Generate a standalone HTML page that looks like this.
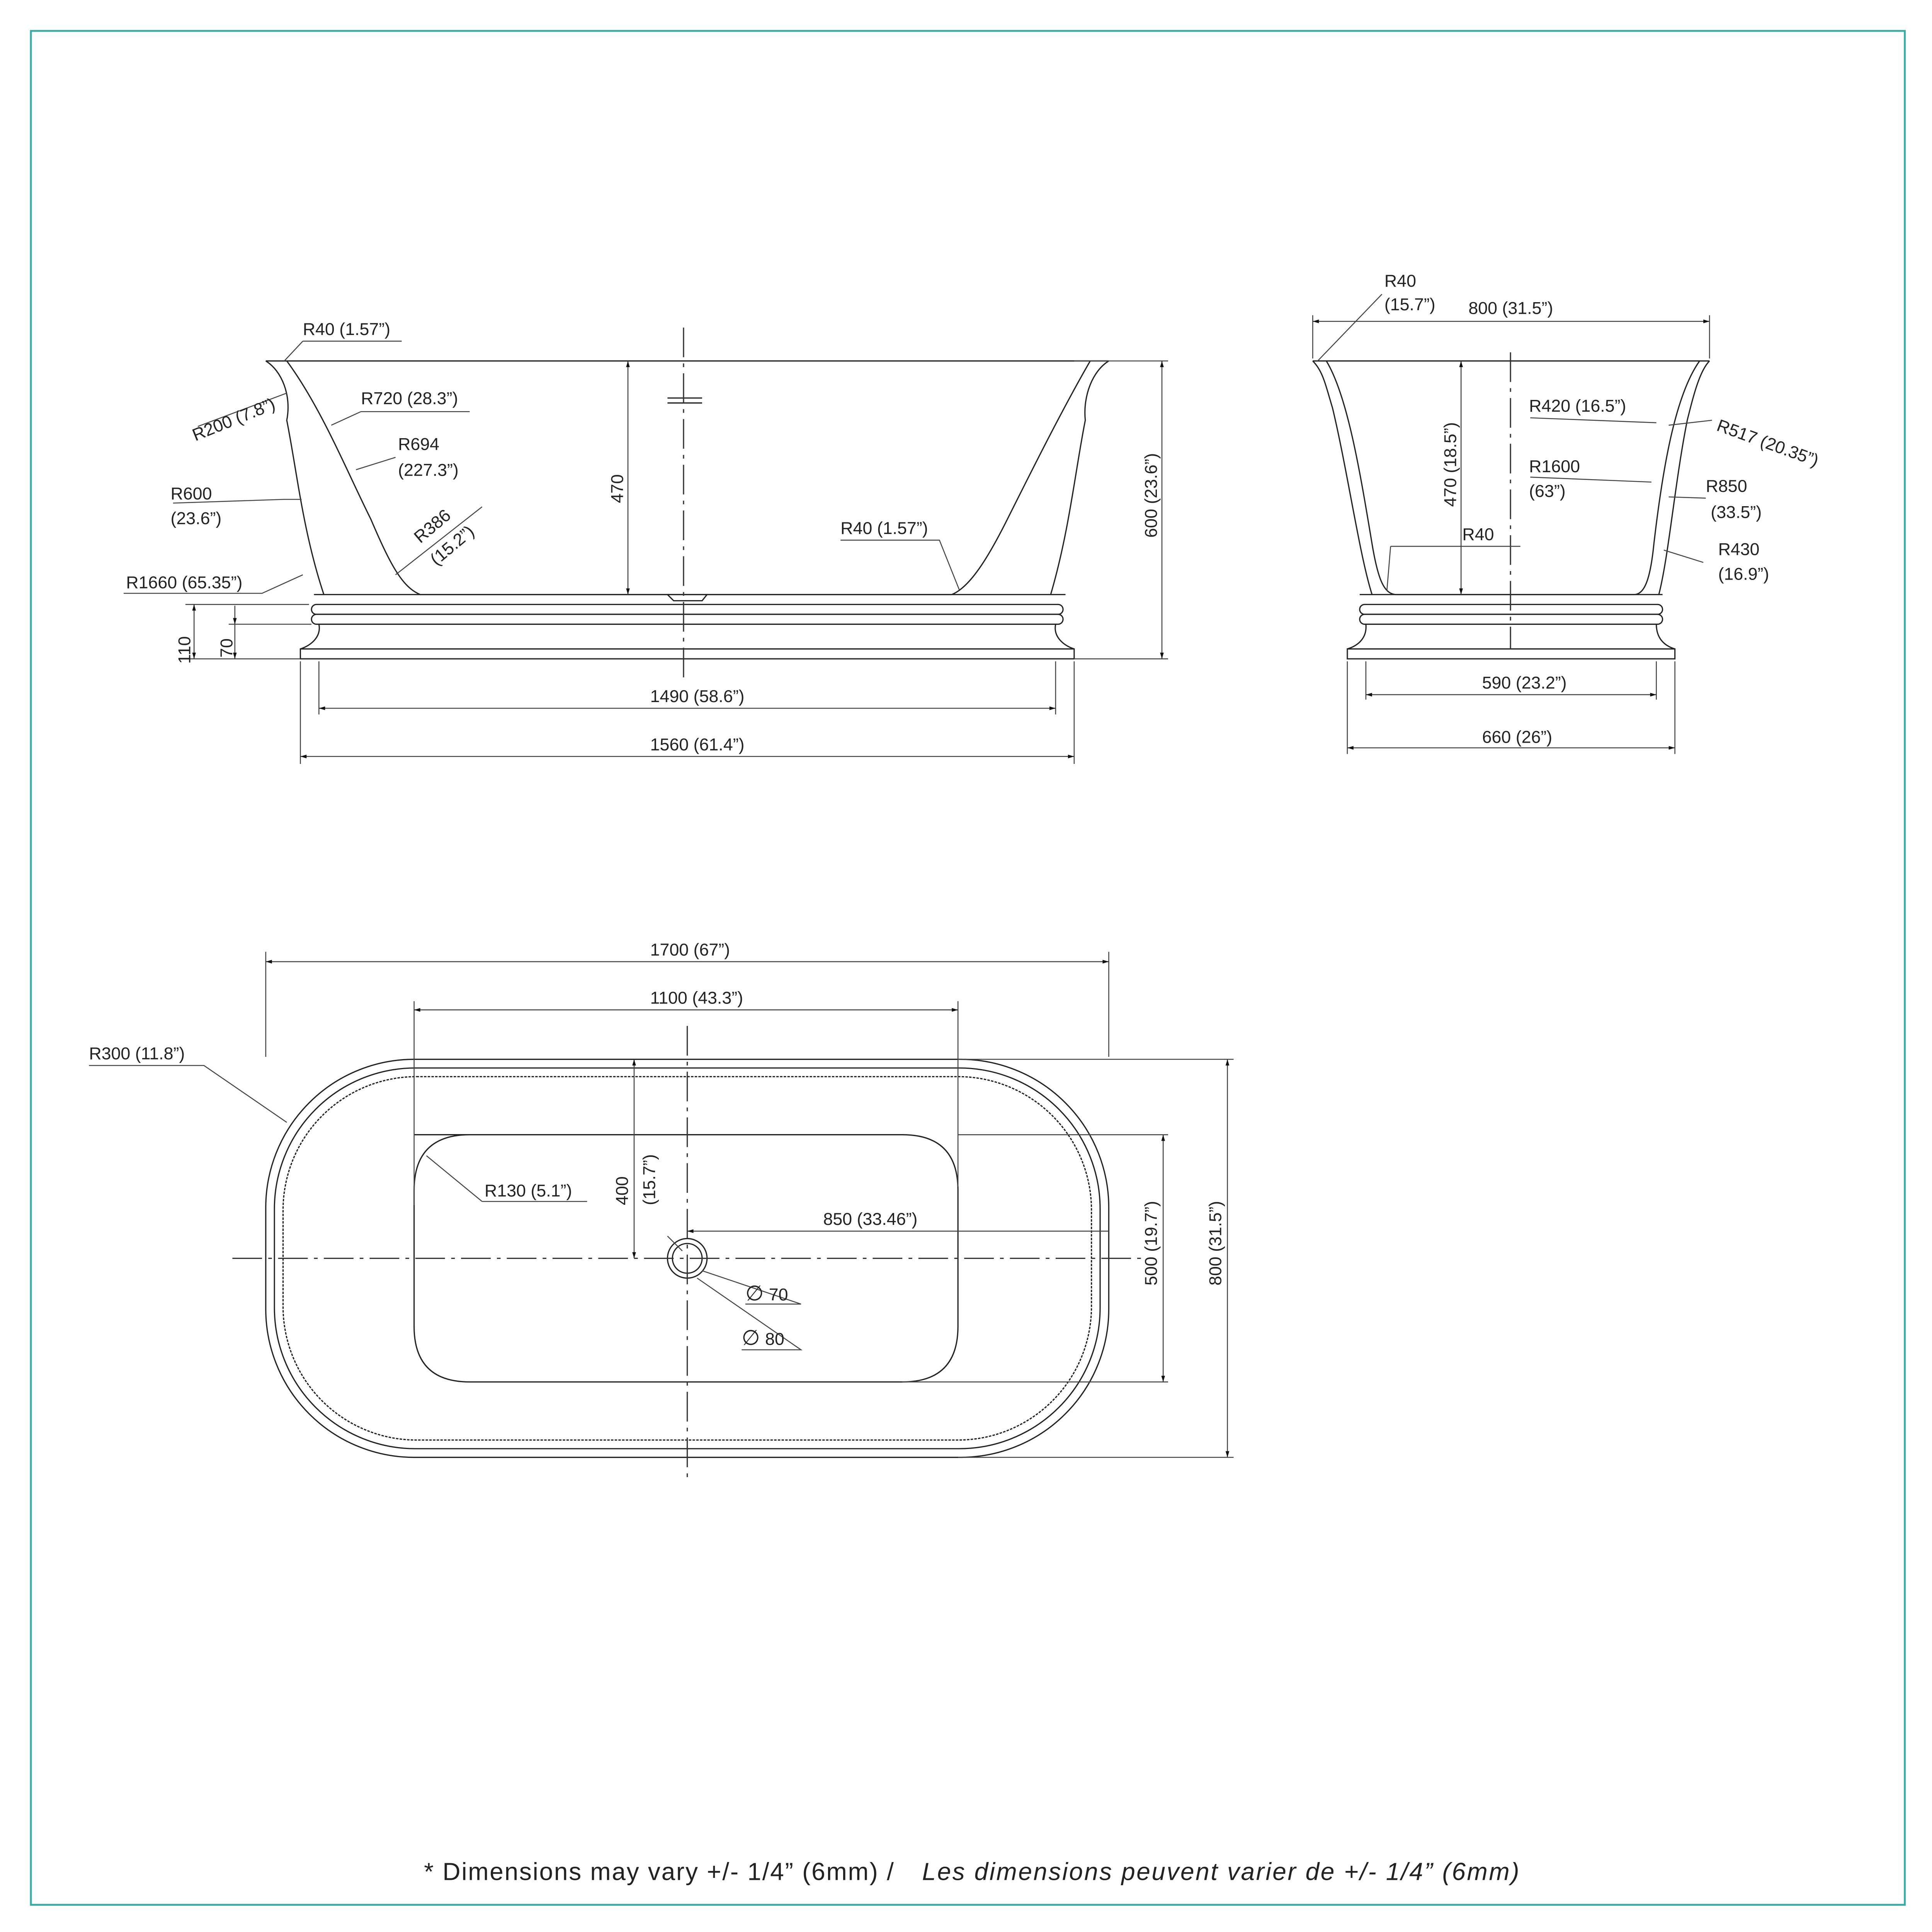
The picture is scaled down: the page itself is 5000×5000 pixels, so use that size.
<!DOCTYPE html>
<html><head><meta charset="utf-8"><style>
html,body{margin:0;padding:0;background:#fff;}
svg{display:block;}
text{font-family:"Liberation Sans",sans-serif;font-size:14px;fill:#222;}
</style></head><body>
<svg width="5000" height="5000" viewBox="0 0 1563 1563" xmlns="http://www.w3.org/2000/svg">
<defs>
<marker id="a" viewBox="0 0 10 10" refX="10" refY="5" markerWidth="9" markerHeight="5" orient="auto-start-reverse" markerUnits="userSpaceOnUse"><path d="M0,2 L10,5 L0,8z" fill="#111"/></marker>
</defs>
<rect x="25" y="25" width="1516" height="1516" fill="none" stroke="#3aa9a9" stroke-width="1.5"/>
<g fill="none" stroke="#222" stroke-width="1">
<path d="M215,292 L897,292"/>
<path d="M215,292 C228,300 236,320 232,340 C240,380 245,430 262,481"/>
<path d="M232,292 C260,330 280,380 300,420 C315,455 325,475 340,481 L770,481 C785,475 800,450 815,420 C835,380 860,330 882,292"/>
<path d="M897,292 C884,300 876,320 878,340 C870,380 865,430 850,481"/>
<path d="M254,481 L862,481"/>
<rect x="252" y="489" width="608" height="8" rx="4"/>
<rect x="252" y="497" width="608" height="8" rx="4"/>
<path d="M258,505 C260,515 252,522 243,525 L869,525 C860,522 852,515 854,505"/>
<rect x="243" y="525" width="626" height="8"/>
<path d="M540,322 L568,322 M540,326 L568,326"/>
<path d="M540,481 L545,486 L568,486 L572,481"/>
<path d="M1062,292 L1383,292"/>
<path d="M1062,292 C1070,300 1072,310 1078,330 C1090,380 1100,450 1110,481"/>
<path d="M1073,292 C1090,320 1100,380 1110,440 C1115,470 1120,481 1130,481 L1322,481 C1330,481 1335,470 1338,440 C1345,380 1355,320 1375,292"/>
<path d="M1383,292 C1375,300 1370,320 1365,340 C1355,390 1350,450 1342,481"/>
<rect x="1100" y="489" width="245" height="8" rx="4"/>
<rect x="1100" y="497" width="245" height="8" rx="4"/>
<path d="M1105,505 C1106,515 1100,522 1090,525 L1355,525 C1345,522 1340,515 1340,505"/>
<rect x="1090" y="525" width="265" height="8"/>
<path d="M1100,481 L1345,481"/>
<rect x="215" y="857" width="682" height="322" rx="120"/>
<rect x="222" y="864" width="668" height="308" rx="114"/>
<rect x="229" y="871" width="654" height="294" rx="108" stroke-dasharray="2,1"/>
<path d="M335,918 L730,918 Q775,918 775,963 L775,1073 Q775,1118 730,1118 L380,1118 Q335,1118 335,1073 L335,963 Q335,918 380,918 Z"/>
<circle cx="556" cy="1018" r="16"/><circle cx="556" cy="1018" r="12"/>
</g>
<g stroke="#333" stroke-width="1" stroke-dasharray="24,5,3,5" fill="none">
<path d="M553,265 L553,548"/>
<path d="M1222,285 L1222,525"/>
<path d="M188,1018 L925,1018"/>
<path d="M556,830 L556,1200"/>
</g>
<g stroke="#444" stroke-width="0.8" fill="none">
<path d="M869,292 L945,292 M869,533 L945,533"/>
<path d="M940,292 L940,533" marker-start="url(#a)" marker-end="url(#a)"/>
<path d="M508,292 L508,481" marker-start="url(#a)" marker-end="url(#a)"/>
<path d="M258,535 L258,578 M854,535 L854,578 M243,535 L243,618 M869,535 L869,618"/>
<path d="M258,573 L854,573" marker-start="url(#a)" marker-end="url(#a)"/>
<path d="M243,612 L869,612" marker-start="url(#a)" marker-end="url(#a)"/>
<path d="M150,489 L250,489 M150,533 L243,533 M185,505 L252,505"/>
<path d="M157,489 L157,533" marker-start="url(#a)" marker-end="url(#a)"/>
<path d="M190,505 L190,533" marker-end="url(#a)"/><path d="M190,490 L190,505" marker-end="url(#a)"/>
<path d="M1062,255 L1062,290 M1383,255 L1383,290"/>
<path d="M1062,260 L1383,260" marker-start="url(#a)" marker-end="url(#a)"/>
<path d="M1182,292 L1182,481" marker-start="url(#a)" marker-end="url(#a)"/>
<path d="M1105,535 L1105,566 M1340,535 L1340,566 M1090,535 L1090,610 M1355,535 L1355,610"/>
<path d="M1105,562 L1340,562" marker-start="url(#a)" marker-end="url(#a)"/>
<path d="M1090,605 L1355,605" marker-start="url(#a)" marker-end="url(#a)"/>
<path d="M215,770 L215,855 M897,770 L897,855 M335,810 L335,975 M775,810 L775,960"/>
<path d="M215,778 L897,778" marker-start="url(#a)" marker-end="url(#a)"/>
<path d="M335,817 L775,817" marker-start="url(#a)" marker-end="url(#a)"/>
<path d="M775,857 L998,857 M775,1179 L998,1179 M775,918 L945,918 M730,1118 L945,1118"/>
<path d="M993,857 L993,1179" marker-start="url(#a)" marker-end="url(#a)"/>
<path d="M941,918 L941,1118" marker-start="url(#a)" marker-end="url(#a)"/>
<path d="M556,996 L897,996" marker-start="url(#a)"/>
<path d="M513,857 L513,1018" marker-start="url(#a)" marker-end="url(#a)"/>
<path d="M245,276 L325,276 M245,276 L230,292" /><path d="M292,333 L380,333 M292,333 L268,344"/>
<path d="M320,370 L288,380"/><path d="M140,407 L230,404 L244,404"/>
<path d="M100,480 L212,480 L245,465"/><path d="M390,410 L320,465"/>
<path d="M680,437 L760,437 L776,477"/><path d="M160,345 L232,318"/>
<path d="M1118,238 L1066,292"/><path d="M1238,338 L1340,342"/><path d="M1238,386 L1336,390"/>
<path d="M1125,442 L1230,442 M1125,442 L1122,478"/><path d="M1385,340 L1350,344"/>
<path d="M1380,403 L1350,402"/><path d="M1378,455 L1346,445"/>
<path d="M72,862 L165,862 L232,908"/><path d="M390,972 L475,972 M390,972 L345,935"/>
<path d="M603,1055 L648,1055 L568,1028"/><path d="M600,1092 L648,1092 L564,1034"/>
<path d="M540,1000 L552,1012"/>
</g>
<text x="245" y="271">R40 (1.57”)</text>
<text x="292" y="327">R720 (28.3”)</text>
<text x="322" y="364">R694</text><text x="322" y="385">(227.3”)</text>
<text x="138" y="404">R600</text><text x="138" y="424">(23.6”)</text>
<text x="102" y="476">R1660 (65.35”)</text>
<text transform="translate(158,357) rotate(-22)">R200 (7.8”)</text>
<text transform="translate(340,440) rotate(-40)">R386</text>
<text transform="translate(353,458) rotate(-40)">(15.2”)</text>
<text x="680" y="432">R40 (1.57”)</text>
<text transform="translate(504,407) rotate(-90)">470</text>
<text transform="translate(936,435) rotate(-90)">600 (23.6”)</text>
<text transform="translate(154,537) rotate(-90)">110</text>
<text transform="translate(188,532) rotate(-90)">70</text>
<text x="526" y="568">1490 (58.6”)</text>
<text x="526" y="607">1560 (61.4”)</text>
<text x="1120" y="232">R40</text><text x="1120" y="251">(15.7”)</text>
<text x="1188" y="254">800 (31.5”)</text>
<text transform="translate(1178,410) rotate(-90)">470 (18.5”)</text>
<text x="1237" y="333">R420 (16.5”)</text>
<text x="1237" y="382">R1600</text><text x="1237" y="402">(63”)</text>
<text x="1183" y="437">R40</text>
<text transform="translate(1388,348) rotate(20)">R517 (20.35”)</text>
<text x="1380" y="398">R850</text><text x="1384" y="419">(33.5”)</text>
<text x="1390" y="449">R430</text><text x="1390" y="469">(16.9”)</text>
<text x="1199" y="557">590 (23.2”)</text>
<text x="1199" y="601">660 (26”)</text>
<text x="526" y="773">1700 (67”)</text>
<text x="526" y="812">1100 (43.3”)</text>
<text x="72" y="857">R300 (11.8”)</text>
<text x="392" y="968">R130 (5.1”)</text>
<text transform="translate(508,975) rotate(-90)">400</text>
<text transform="translate(530,975) rotate(-90)">(15.7”)</text>
<text x="666" y="991">850 (33.46”)</text>
<text transform="translate(936,1040) rotate(-90)">500 (19.7”)</text>
<text transform="translate(988,1040) rotate(-90)">800 (31.5”)</text>
<text x="603" y="1052" style="font-size:17px">∅</text><text x="622" y="1052">70</text>
<text x="600" y="1088" style="font-size:17px">∅</text><text x="619" y="1088">80</text>
<text x="343" y="1521" style="font-size:20px" textLength="380" lengthAdjust="spacing">* Dimensions may vary +/- 1/4” (6mm) /</text>
<text x="746" y="1521" style="font-size:20px;font-style:italic" textLength="483" lengthAdjust="spacing">Les dimensions peuvent varier de +/- 1/4” (6mm)</text>
</svg>
</body></html>
